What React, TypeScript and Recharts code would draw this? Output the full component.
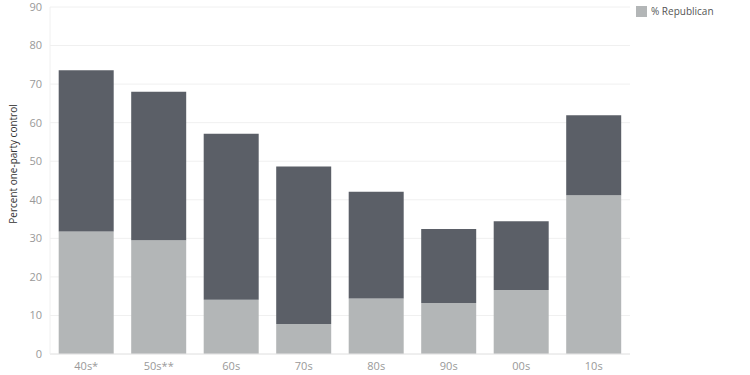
import React from "react";
import {
  BarChart,
  Bar,
  XAxis,
  YAxis,
  CartesianGrid,
  Legend,
} from "recharts";

const decades = ["40s*", "50s**", "60s", "70s", "80s", "90s", "00s", "10s"];
const republican = [31.8, 29.5, 14.1, 7.8, 14.4, 13.2, 16.6, 41.2];
const democrat = [41.8, 38.5, 43.0, 40.8, 27.7, 19.2, 17.8, 20.7];
const yTicks = [0, 10, 20, 30, 40, 50, 60, 70, 80, 90];

const chartData = decades.map((d, i) => ({
  decade: d,
  rep: republican[i],
  dem: democrat[i],
}));

const font = "'Open Sans', Lato, sans-serif";

function AxisTitle() {
  return (
    <text
      x={17}
      y={164}
      transform="rotate(-90 17 164)"
      textAnchor="middle"
      fontSize={10}
      fill="#333"
      fontFamily={font}
    >
      Percent one-party control
    </text>
  );
}

export default function App() {
  return (
    <div style={{ position: "absolute", left: 0, top: 0, background: "#fff" }}>
      <BarChart
        width={750}
        height={375}
        data={chartData}
        margin={{ top: 7, right: 6, bottom: 0, left: 0 }}
        barCategoryGap="12%"
      >
        <CartesianGrid vertical={false} stroke="#f0f0f0" />
        <XAxis
          dataKey="decade"
          height={21}
          tick={{ fontSize: 11, fill: "#999", fontFamily: font }}
          tickLine={false}
          axisLine={{ stroke: "#e6e6e6" }}
        />
        <YAxis
          width={50}
          domain={[0, 90]}
          ticks={yTicks}
          interval={0}
          tick={{ fontSize: 11, fill: "#999", fontFamily: font }}
          tickLine={false}
          axisLine={{ stroke: "#f0f0f0" }}
          label={{ content: () => <AxisTitle /> }}
        />
        <Legend
          layout="vertical"
          align="right"
          verticalAlign="top"
          iconType="square"
          iconSize={11}
          wrapperStyle={{ top: 1, left: 636, width: 114 }}
          formatter={(value) => (
            <span style={{ color: "#555", fontSize: 10, fontFamily: font }}>
              {value}
            </span>
          )}
        />
        <Bar
          dataKey="rep"
          name="% Republican"
          stackId="a"
          fill="#b3b6b7"
          isAnimationActive={false}
        />
        <Bar
          dataKey="dem"
          name="% Democrat"
          stackId="a"
          fill="#5b5f67"
          legendType="none"
          isAnimationActive={false}
        />
      </BarChart>
    </div>
  );
}
